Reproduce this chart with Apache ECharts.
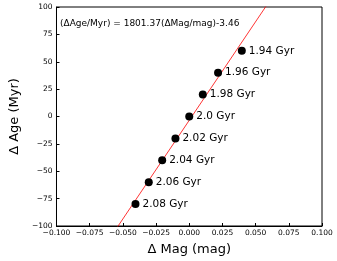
<!DOCTYPE html>
<html><head><meta charset="utf-8">
<script src="https://cdn.jsdelivr.net/npm/echarts@6/dist/echarts.min.js"></script>
<style>html,body{margin:0;padding:0;background:#fff}#c{width:337px;height:261px}</style>
</head><body><div id="c"></div>
<script>
const labels = ['1.94 Gyr','1.96 Gyr','1.98 Gyr','2.0 Gyr','2.02 Gyr','2.04 Gyr','2.06 Gyr','2.08 Gyr'];
const dMag = [0.0396, 0.0217, 0.0102, 0.0, -0.0104, -0.0204, -0.0305, -0.0405];
const dAge = [60, 40, 20, 0, -20, -40, -60, -80];
const slope = 1801.37, intercept = -3.46;
const fitX = [-0.1, 0.1];
const font = 'DejaVu Sans';
const minus = s => s.replace('-', '\u2212');
const chart = echarts.init(document.getElementById('c'));
chart.setOption({
  animation:false,
  grid:{left:43,right:15,top:7,bottom:30,show:true,borderColor:'#000',borderWidth:1},
  xAxis:{type:'value',min:-0.1,max:0.1,interval:0.025,
    name:'Δ Mag (mag)',nameLocation:'middle',nameGap:17,
    nameTextStyle:{fontFamily:font,fontSize:13,color:'#000'},
    axisLine:{show:true,onZero:false,lineStyle:{color:'#000',width:1}},
    axisTick:{show:true,inside:true,length:3,lineStyle:{color:'#000'}},
    axisLabel:{fontFamily:font,fontSize:7.5,color:'#000',margin:3,formatter:v=>minus(v.toFixed(3))},
    splitLine:{show:false}},
  yAxis:{type:'value',min:-100,max:100,interval:25,
    name:'Δ Age (Myr)',nameLocation:'middle',nameGap:27,
    nameTextStyle:{fontFamily:font,fontSize:13,color:'#000'},
    axisLine:{show:true,onZero:false,lineStyle:{color:'#000',width:1}},
    axisTick:{show:true,inside:true,length:3,lineStyle:{color:'#000'}},
    axisLabel:{fontFamily:font,fontSize:7.5,color:'#000',margin:4,formatter:v=>minus(String(v))},
    splitLine:{show:false}},
  graphic:[{type:'text',left:60,top:19,style:{text:'(ΔAge/Myr) = 1801.37(ΔMag/mag)-3.46',font:'9px "DejaVu Sans"',fill:'#000'}}],
  series:[
    {type:'line',data:fitX.map(x=>[x, slope*x+intercept]),symbol:'none',clip:true,
     lineStyle:{color:'#ff0000',width:0.8},z:3},
    {type:'scatter',data:dMag.map((x,i)=>[x,dAge[i],labels[i]]),symbolSize:8,
     itemStyle:{color:'#000',opacity:1},z:4,
     label:{show:true,position:'right',distance:3,formatter:p=>p.data[2],
       fontFamily:font,fontSize:10.5,color:'#000'}}
  ]
});
</script></body></html>
